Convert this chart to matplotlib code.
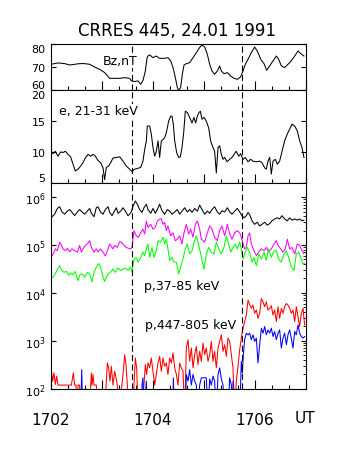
import numpy as np
import matplotlib
matplotlib.use("Agg")
import matplotlib.pyplot as plt
from matplotlib.ticker import FixedLocator, MultipleLocator, LogLocator, NullFormatter

plt.rcParams["font.family"] = "DejaVu Sans"

# all times in seconds after 17:02:00 UT
t_bz = [0, 8.2, 16.1, 22.0, 27.8, 33.7, 39.6, 45.5, 51.4, 57.3, 63.1, 69.0, 74.9, 80.8,
        86.7, 92.5, 94.5, 98.4, 102.4, 105.5, 108.2, 111.0, 112.9, 114.1, 116.1, 120.0,
        123.9, 127.8, 133.7, 137.6, 140.8, 143.5, 146.3, 148.6, 150.2, 152.5, 154.5,
        156.5, 159.2, 163.1, 167.1, 171.0, 174.9, 177.6, 180.8, 183.9, 186.7, 189.4,
        192.5, 195.7, 198.4, 200.4, 203.5, 207.5, 211.4, 215.3, 219.2, 223.1, 225.9,
        228.6, 231.8, 235.7, 239.6, 242.7, 246.7, 250.6, 253.7, 257.3, 261.2, 265.1,
        267.8, 271.0, 274.9, 278.8, 282.7, 286.7, 290.6, 293.7, 297.6]
bz = [71.3, 71.9, 71.6, 71.0, 71.3, 71.6, 71.6, 71.3, 70.1, 69.1, 67.7, 65.2, 65.2, 65.2,
      65.5, 65.2, 64.1, 63.8, 64.1, 62.6, 64.3, 68.4, 73.9, 74.9, 75.4, 74.2,
      74.9, 73.9, 73.9, 74.2, 72.8, 69.9, 65.5, 61.2, 60.0, 61.2, 67.0,
      71.0, 71.6, 72.0, 74.2, 76.4, 78.6, 79.7, 78.8, 75.7, 71.3, 68.4,
      67.0, 68.4, 70.6, 68.4, 67.2, 67.7, 66.2, 65.2, 64.8, 65.8, 68.4,
      71.3, 73.5, 76.4, 78.8, 77.1, 73.5, 71.6, 68.7, 70.6, 72.8, 74.9,
      73.5, 70.6, 69.9, 71.3, 72.8, 74.9, 77.1, 76.0, 74.9]

t_e = [0, 2.4, 5.1, 8.2, 11.4, 14.1, 16.9, 20.0, 23.1, 25.9, 28.6, 31.8, 34.9, 37.6, 40.4,
       43.5, 46.7, 49.4, 52.2, 55.3, 58.4, 61.2, 63.1, 65.1, 67.8, 70.2, 72.9, 76.9, 80.8,
       84.7, 88.6, 92.5, 95.3, 98.4, 101.6, 105.5, 108.2, 110.2, 112.2, 113.3, 116.1,
       118.0, 120.0, 122.0, 123.9, 125.9, 127.8, 129.8, 131.8, 133.7, 135.7, 138.4,
       140.8, 142.4, 143.9, 145.5, 147.8, 150.2, 152.2, 154.1, 156.1, 158.0, 160.4,
       163.1, 165.9, 168.2, 170.2, 172.2, 174.1, 175.7, 177.6, 180.0, 182.7, 185.5,
       187.8, 190.6, 192.5, 194.5, 196.5, 198.4, 200.4, 202.4, 204.3, 207.1, 210.2,
       212.9, 215.3, 218.0, 220.8, 223.1, 225.9, 228.6, 231.8, 234.9, 237.6, 241.6,
       245.5, 248.2, 251.4, 253.3, 255.3, 257.3, 259.2, 261.2, 263.9, 266.3, 269.0,
       271.8, 274.9, 278.0, 280.8, 283.5, 286.7, 289.8, 292.5, 295.3, 297.6]
e_flux = [10.25, 9.7, 10.1, 9.3, 10.0, 9.9, 10.1, 9.6, 9.2, 8.0, 6.9, 7.2, 7.7, 8.25, 9.0,
          9.6, 9.3, 9.6, 9.3, 8.6, 8.25, 7.4, 5.5, 7.5, 7.7, 8.25, 9.0, 9.1, 9.2,
          8.5, 7.7, 7.2, 6.8, 7.2, 7.3, 7.5, 8.5, 10.4, 11.8, 14.2, 14.2,
          12.9, 10.7, 9.3, 10.1, 11.8, 9.1, 11.8, 12.0, 12.3, 13.1, 15.0,
          15.8, 15.8, 14.5, 11.8, 9.9, 9.1, 9.2, 10.7, 13.1, 16.6, 16.4,
          15.6, 14.7, 15.6, 14.7, 15.8, 16.4, 16.6, 15.3, 15.6, 15.0, 13.9,
          11.8, 10.7, 10.1, 6.6, 10.7, 11.0, 9.6, 8.8, 9.1, 8.4, 8.8,
          9.1, 9.6, 10.1, 9.3, 9.7, 8.8, 9.1, 8.4, 8.8, 8.5, 8.4,
          8.5, 8.25, 7.4, 7.2, 8.5, 9.1, 6.4, 8.5, 8.8, 8.0, 8.5,
          10.1, 11.8, 12.9, 13.7, 14.5, 14.2, 13.4, 11.8, 10.7, 9.1]

t_black = [0, 4.3, 7.5, 10.2, 12.9, 16.1, 19.2, 22.0, 24.7, 27.8, 31.0, 33.7, 36.5, 39.6,
           42.7, 45.5, 47.5, 50.6, 53.3, 55.3, 58.4, 61.2, 63.9, 67.1, 69.0, 71.8, 74.9,
           76.9, 78.8, 82.0, 84.7, 87.5, 90.6, 92.5, 94.5, 96.5, 99.2, 101.6, 104.3,
           107.1, 109.4, 112.2, 114.1, 117.3, 120.0, 122.7, 125.1, 127.8, 130.6, 133.7,
           136.9, 139.6, 142.4, 145.5, 148.6, 151.4, 154.1, 157.3, 160.4, 163.1, 165.9,
           169.0, 172.2, 174.9, 177.6, 180.8, 183.9, 186.7, 189.4, 192.5, 195.7, 198.4,
           201.2, 204.3, 207.5, 210.2, 212.9, 216.1, 219.2, 222.0, 224.7, 227.1, 229.8,
           231.8, 233.7, 236.5, 239.6, 242.7, 245.5, 248.2, 251.4, 254.5, 257.3, 260.0,
           263.1, 266.3, 269.0, 271.8, 274.9, 278.0, 280.8, 283.5, 286.7, 289.8, 292.5,
           295.3, 297.6]
black = [3.7e5, 4.4e5, 5.8e5, 6.3e5, 4.9e5, 4.4e5, 5.1e5, 5.5e5, 4.8e5, 4.1e5, 4.9e5,
         5.5e5, 4.9e5, 4.4e5, 5.1e5, 5.8e5, 4.6e5, 3.9e5, 6.0e5, 6.3e5, 4.8e5, 4.4e5,
         5.5e5, 6.3e5, 4.8e5, 4.1e5, 5.2e5, 6.0e5, 4.6e5, 5.1e5, 6.0e5, 5.1e5, 4.1e5,
         4.4e5, 4.9e5, 6.5e5, 8.3e5, 7.1e5, 5.5e5, 4.8e5, 6.0e5, 7.1e5, 5.5e5, 4.6e5,
         5.8e5, 4.6e5, 5.5e5, 7.1e5, 5.2e5, 4.4e5, 5.5e5, 5.1e5, 4.4e5, 4.9e5, 5.5e5,
         4.4e5, 5.1e5, 6.0e5, 4.9e5, 5.5e5, 4.8e5, 5.8e5, 5.1e5, 6.8e5, 5.5e5, 4.4e5,
         5.1e5, 4.6e5, 5.5e5, 6.3e5, 4.9e5, 4.4e5, 5.2e5, 4.9e5, 6.0e5, 4.9e5, 4.4e5,
         5.1e5, 5.8e5, 4.9e5, 4.1e5, 3.7e5, 4.1e5, 4.8e5, 4.3e5, 3.2e5, 2.7e5, 3.0e5,
         2.5e5, 2.7e5, 3.0e5, 2.6e5, 2.8e5, 3.2e5, 3.5e5, 3.7e5, 3.5e5, 4.1e5, 3.5e5,
         3.2e5, 3.7e5, 3.3e5, 3.5e5, 3.3e5, 3.5e5, 3.2e5, 3.3e5]

t_mag = [0, 2.4, 5.1, 7.5, 10.2, 12.2, 14.1, 16.9, 19.2, 22.0, 24.7, 27.8, 31.0, 33.7,
         35.7, 37.6, 40.4, 42.7, 45.5, 47.5, 50.6, 53.3, 55.3, 58.4, 61.2, 63.9, 67.1,
         69.0, 72.9, 74.9, 78.0, 80.8, 82.7, 85.9, 88.6, 91.4, 93.7, 95.3, 97.6, 100.4,
         103.1, 105.5, 108.2, 110.2, 112.2, 114.1, 117.3, 120.0, 122.7, 125.1, 127.8,
         129.8, 131.8, 133.7, 135.7, 137.6, 140.8, 143.5, 146.3, 148.6, 151.4, 154.1,
         156.5, 159.2, 162.0, 164.3, 167.1, 169.8, 172.2, 174.9, 176.9, 180.8, 183.5,
         186.7, 189.4, 192.5, 195.7, 198.4, 201.2, 204.3, 207.5, 210.2, 212.9, 216.1,
         219.2, 222.0, 223.9, 225.9, 227.8, 229.8, 231.8, 233.7, 235.7, 238.8, 241.6,
         244.3, 247.5, 250.6, 253.3, 256.1, 259.2, 262.4, 265.1, 267.1, 270.2, 272.9,
         275.7, 278.0, 280.8, 283.5, 286.7, 289.8, 292.5, 295.3, 297.6]
magenta = [5.5e4, 6.5e4, 8.3e4, 7.6e4, 1.15e5, 1.0e5, 8.3e4, 7.6e4, 8.5e4, 7.2e4, 8.3e4,
           7.6e4, 7.1e4, 9.8e4, 7.1e4, 8.3e4, 9.8e4, 1.05e5, 1.23e5, 8.9e4, 7.1e4, 8.3e4,
           7.2e4, 8.3e4, 7.1e4, 5.9e4, 8.3e4, 1.05e5, 8.3e4, 9.8e4, 8.9e4, 1.17e5, 1.15e5,
           9.8e4, 8.9e4, 8.5e4, 8.3e4, 8.9e4, 2.0e5, 1.55e5, 1.45e5, 1.8e5, 2.14e5, 1.7e5,
           3.16e5, 2.34e5, 2.7e5, 2.14e5, 2.34e5, 3.16e5, 3.47e5, 3.55e5, 2.7e5, 2.95e5,
           2.0e5, 2.5e5, 1.55e5, 1.8e5, 1.23e5, 1.32e5, 1.55e5, 1.05e5, 1.8e5, 2.7e5,
           1.7e5, 2.14e5, 1.45e5, 2.7e5, 3.16e5, 2.14e5, 1.32e5, 1.15e5, 1.7e5, 2.5e5,
           2.14e5, 1.45e5, 1.23e5, 2.0e5, 2.5e5, 1.55e5, 2.7e5, 1.7e5, 1.32e5, 1.8e5,
           2.0e5, 1.8e5, 1.45e5, 1.05e5, 8.3e4, 8.9e4, 1.55e5, 1.8e5, 1.05e5, 7.6e4,
           6.0e4, 7.1e4, 8.3e4, 7.6e4, 8.9e4, 7.1e4, 8.3e4, 1.05e5, 1.23e5, 9.8e4, 8.3e4,
           7.1e4, 8.3e4, 1.32e5, 8.3e4, 8.9e4, 6.5e4, 1.05e5, 9.8e4, 7.6e4, 6.5e4]

t_green = [0, 2.4, 5.1, 7.5, 10.2, 12.9, 15.3, 18.0, 20.8, 23.1, 25.9, 28.6, 31.8, 33.7,
           36.5, 39.6, 42.7, 45.5, 48.2, 50.6, 53.3, 56.1, 58.4, 61.2, 63.1, 65.1, 67.8,
           71.0, 72.9, 75.7, 78.8, 82.0, 84.7, 87.5, 90.6, 93.7, 95.3, 97.6, 100.4, 102.4,
           105.5, 108.2, 110.2, 112.2, 114.1, 116.1, 118.8, 121.2, 123.9, 125.9, 129.0,
           131.8, 133.7, 135.7, 137.6, 139.6, 142.4, 144.7, 147.5, 150.2, 152.5, 155.3,
           158.0, 160.4, 163.1, 165.9, 169.0, 171.0, 172.9, 174.9, 176.9, 180.0, 182.7,
           185.5, 188.6, 191.8, 194.5, 197.3, 200.4, 203.5, 206.3, 209.0, 211.4, 214.1,
           216.9, 219.2, 222.0, 223.9, 225.9, 228.6, 231.0, 233.7, 236.5, 238.8, 241.6,
           244.3, 247.5, 250.6, 253.3, 256.1, 259.2, 262.4, 265.1, 267.8, 271.0, 274.1,
           276.9, 279.6, 282.7, 285.9, 288.6, 291.4, 293.7, 296.5, 298.4]
green = [2.0e4, 2.14e4, 2.5e4, 3.1e4, 3.7e4, 2.95e4, 2.7e4, 2.8e4, 2.34e4, 2.6e4, 2.4e4,
         2.8e4, 1.8e4, 2.34e4, 2.5e4, 2.14e4, 2.7e4, 2.5e4, 1.7e4, 2.7e4, 3.47e4, 4.1e4,
         3.47e4, 2.14e4, 1.74e4, 2.14e4, 2.5e4, 2.8e4, 3.16e4, 2.7e4, 3.3e4, 2.95e4,
         3.16e4, 3.3e4, 2.95e4, 3.47e4, 2.8e4, 5.1e4, 5.5e4, 4.4e4, 5.5e4, 7.1e4, 6.0e4,
         8.3e4, 1.05e5, 5.5e4, 8.9e4, 5.5e4, 7.6e4, 1.23e5, 1.15e5, 1.45e5, 1.05e5,
         1.32e5, 8.3e4, 4.8e4, 5.5e4, 4.4e4, 4.4e4, 2.5e4, 3.47e4, 5.1e4, 8.3e4, 1.05e5,
         6.5e4, 7.6e4, 1.23e5, 1.55e5, 1.15e5, 8.3e4, 5.5e4, 3.16e4, 6.5e4, 8.9e4, 7.1e4,
         6.5e4, 1.15e5, 8.3e4, 6.5e4, 8.9e4, 1.55e5, 1.05e5, 7.1e4, 8.9e4, 1.05e5, 8.3e4,
         1.15e5, 8.3e4, 5.1e4, 7.1e4, 8.9e4, 7.1e4, 4.4e4, 5.5e4, 3.7e4, 6.5e4, 5.1e4,
         7.1e4, 4.8e4, 8.3e4, 5.5e4, 7.6e4, 7.6e4, 5.1e4, 4.4e4, 6.5e4, 7.6e4, 5.5e4,
         3.47e4, 2.95e4, 6.5e4, 7.1e4, 5.5e4, 4.1e4, 4.1e4]

# 30 = count below the plotted range (drop-out)
t_red = [0, 2.0, 3.5, 5.1, 6.7, 8.2, 12.0, 16.0, 20.0, 24.0, 26.3, 27.8, 29.4, 30.5, 31.8,
         33.7, 35.0, 45.5, 46.7, 47.5, 48.2, 49.4, 50.6, 52.2, 53.3, 55.3, 63.0, 66.3,
         67.8, 69.4, 71.0, 72.9, 74.9, 76.5, 78.0, 80.0, 84.7, 86.7, 88.2, 89.8, 91.0,
         96.0, 97.6, 99.2, 100.8, 102.4, 106.0, 109.4, 111.0, 112.5, 114.1, 116.1, 118.0,
         120.0, 122.0, 123.9, 125.9, 127.8, 129.8, 131.8, 133.7, 135.7, 137.6, 139.6,
         141.6, 143.5, 145.5, 147.5, 149.4, 151.4, 153.3, 155.3, 157.3, 159.2, 161.2,
         163.1, 165.1, 167.1, 169.0, 171.0, 172.9, 174.9, 176.9, 178.8, 180.8, 182.7,
         184.7, 186.7, 188.6, 190.6, 192.5, 194.5, 196.5, 198.4, 200.4, 202.4, 204.3,
         206.3, 208.2, 210.2, 212.2, 214.1, 216.1, 218.0, 220.0, 222.0, 223.9, 225.9,
         227.8, 229.8, 231.8, 233.7, 235.7, 237.6, 239.6, 241.6, 243.5, 245.5, 247.5,
         249.4, 251.4, 253.3, 255.3, 257.3, 259.2, 261.2, 263.1, 265.1, 267.1, 269.0,
         271.0, 272.9, 274.9, 276.9, 278.8, 280.8, 282.7, 284.7, 286.7, 288.6, 290.6,
         292.5, 294.5, 296.5, 298.4]
red = [272, 144, 214, 123, 183, 119, 119, 119, 119, 119, 214, 119, 119, 30, 119,
       119, 30, 30, 119, 214, 119, 198, 119, 119, 119, 30, 30, 345,
       272, 144, 294, 119, 232, 169, 119, 30, 198, 513, 318, 119, 30,
       30, 119, 438, 272, 30, 30, 119, 318, 198, 345, 272, 438,
       232, 119, 198, 345, 474, 232, 438, 294, 345, 198, 438,
       345, 556, 272, 198, 119, 345, 272, 232, 30, 706, 1050,
       373, 706, 272, 513, 764, 318, 602, 373, 896, 513, 706,
       373, 513, 970, 373, 602, 272, 706, 970, 1333, 602, 828,
       474, 1137, 970, 513, 272, 30, 144, 294, 652, 1137, 1832,
       2517, 3460, 7050, 5700, 4760, 5580, 3750, 4400, 2950, 3750, 7640,
       6500, 5150, 6500, 4400, 4760, 5400, 3460, 4400, 2517, 5150, 2950,
       4760, 3750, 5150, 6000, 5580, 4760, 3750, 4400, 2517, 5150, 3200,
       1983, 3750, 4760, 2147]

t_blue = [0, 35.0, 36.1, 37.3, 106.3, 107.1, 108.2, 109.4, 112.2, 113.3, 143.5, 143.9,
          145.5, 158.0, 159.2, 161.2, 163.1, 165.1, 167.1, 169.0, 171.0, 172.9, 174.9,
          176.9, 180.8, 182.7, 184.7, 186.7, 188.6, 190.6, 192.5, 194.5, 196.5, 198.4,
          200.4, 202.4, 204.3, 208.2, 210.2, 212.2, 213.5, 214.1, 215.5, 222.0, 223.9,
          225.1, 226.3, 227.8, 229.8, 231.8, 233.7, 235.7, 237.6, 239.6, 241.6, 243.5,
          245.5, 247.5, 249.4, 251.4, 253.3, 255.3, 257.3, 259.2, 261.2, 263.1, 265.1,
          267.1, 269.0, 271.0, 272.9, 274.9, 276.9, 278.8, 280.8, 282.7, 284.7, 286.7,
          288.6, 290.6, 292.5, 294.5, 296.5, 298.4]
blue = [30, 30, 250, 30, 30, 119, 169, 30, 144, 30, 30, 169,
        30, 30, 198, 144, 250, 119, 198, 144, 119, 30, 119,
        169, 169, 169, 30, 160, 119, 183, 144, 30, 198, 272,
        160, 119, 30, 30, 169, 119, 30, 144, 30, 30, 373,
        214, 513, 1050, 1443, 1333, 1443, 1050, 1333, 970, 1137, 345,
        828, 1832, 1443, 1983, 1333, 1692, 1443, 1832, 1231, 1562, 1050,
        1443, 1692, 706, 1137, 1443, 828, 1333, 1692, 1137, 706, 1562,
        1333, 2147, 1443, 1231, 1137, 1231]

event_times = [95, 225]          # 17:03:35 and 17:05:45
x_labels = {0: "1702", 120: "1704", 240: "1706"}

W, H = 340, 460
fig = plt.figure(figsize=(W / 100, H / 100), dpi=100)

def frac(x0, y0, x1, y1):
    return [x0 / W, 1 - y1 / H, (x1 - x0) / W, (y1 - y0) / H]

ax1 = fig.add_axes(frac(51, 45.3, 306, 91.3))
ax2 = fig.add_axes(frac(51, 91.3, 306, 183.7))
ax3 = fig.add_axes(frac(51, 183.7, 306, 389.7))

lw = 0.75
ax1.plot(t_bz, bz, color="black", lw=lw)
ax2.plot(t_e, e_flux, color="black", lw=lw)
ax3.plot(t_black, black, color="black", lw=lw)
ax3.plot(t_mag, magenta, color="#ff00ff", lw=lw)
ax3.plot(t_green, green, color="#00ff00", lw=lw)
ax3.plot(t_red, red, color="#ff0000", lw=lw)
ax3.plot(t_blue, blue, color="#0000ff", lw=lw)

ax1.set_ylim(60, 80)
ax1.yaxis.set_major_locator(FixedLocator([60, 70, 80]))
ax2.set_ylim(5, 20)
ax2.yaxis.set_major_locator(FixedLocator([5, 10, 15, 20]))
ax3.set_yscale("log")
ax3.set_ylim(1e2, 2e6)
ax3.yaxis.set_major_locator(LogLocator(base=10, numticks=10))
ax3.yaxis.set_minor_locator(LogLocator(base=10, subs=np.arange(2, 10), numticks=10))
ax3.yaxis.set_minor_formatter(NullFormatter())

for ax in (ax1, ax2, ax3):
    ax.set_xlim(0, 300)
    ax.xaxis.set_major_locator(MultipleLocator(60))
    ax.xaxis.set_minor_locator(MultipleLocator(20))
    for xv in event_times:
        ax.axvline(xv, color="black", lw=0.8, dashes=(5.5, 3.0))
    for sp in ax.spines.values():
        sp.set_linewidth(0.8)
    ax.tick_params(axis="x", which="major", direction="in", length=6.5, width=0.8,
                   top=False, bottom=True)
    ax.tick_params(axis="x", which="minor", direction="in", length=3, width=0.8,
                   top=False, bottom=True)
    ax.tick_params(axis="y", which="major", direction="in", length=3.5, width=0.8,
                   left=True, right=True, labelsize=8, pad=4)
    ax.tick_params(axis="y", which="minor", direction="in", length=2, width=0.6,
                   left=False, right=True)

ax1.set_xticklabels([])
ax2.set_xticklabels([])
ax3.xaxis.set_major_formatter(plt.FuncFormatter(lambda v, p: x_labels.get(int(round(v)), "")))
ax3.tick_params(axis="x", which="major", labelsize=11, pad=17)

# keep the end labels inside the panel height
for ax in (ax1, ax2):
    labs = ax.get_yticklabels()
    labs[0].set_va("bottom")
    labs[-1].set_va("top")

fig.text(177 / W, 1 - 31 / H, "CRRES 445, 24.01 1991", ha="center", va="center",
         fontsize=12)
fig.text(305 / W, 1 - 419 / H, "UT", ha="center", va="center", fontsize=11)

box = dict(facecolor="white", edgecolor="none", pad=0.5)
fig.text(103 / W, 1 - 62 / H, "Bz,nT", ha="left", va="center", fontsize=9, bbox=box)
fig.text(59 / W, 1 - 112 / H, "e, 21-31 keV", ha="left", va="center", fontsize=9, bbox=box)
fig.text(144 / W, 1 - 287 / H, "p,37-85 keV", ha="left", va="center", fontsize=9, bbox=box)
fig.text(145 / W, 1 - 325.5 / H, "p,447-805 keV", ha="left", va="center", fontsize=9, bbox=box)

fig.savefig("out.png", dpi=100)
